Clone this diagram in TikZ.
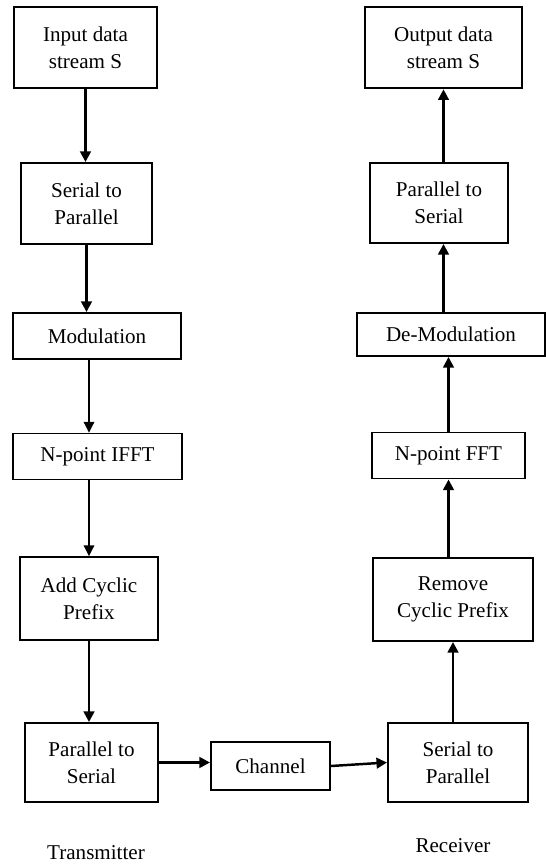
\documentclass[tikz,border=0pt]{standalone}
\usepackage{fontspec}
\setmainfont{Liberation Serif}
\usetikzlibrary{arrows.meta}

\begin{document}
\begin{tikzpicture}[x=0.02cm, y=-0.02cm,
	every node/.style={font=\fontsize{12}{15.4}\selectfont, align=center, inner sep=0pt},
	blk/.style={draw, line width=1.1pt, minimum width=#1},
	tall/.style={minimum height=81*0.02cm},
	flat/.style={minimum height=46*0.02cm},
	flow/.style={-{Triangle[length=6pt, width=6pt]}, line width=1.4pt},
	thinflow/.style={-{Triangle[length=6pt, width=6pt]}, line width=0.6pt}]
	\useasboundingbox (0,0) rectangle (546,864);
	% transmitter
	\node [blk=143*0.02cm, tall, line width=1.5pt] (tin) at (85.5,47.5) {Input data\\stream S};
	\node [blk=131*0.02cm, tall] (tsp) at (86.5,203.5) {Serial to\\Parallel};
	\node [blk=168*0.02cm, flat] (tmod) at (97,336) {Modulation};
	\node [blk=169*0.02cm, flat] (tifft) at (97.5,456.5) {N-point IFFT};
	\node [blk=138*0.02cm, minimum height=83*0.02cm] (tcp) at (89,598.5) {Add Cyclic\\Prefix};
	\node [blk=133*0.02cm, minimum height=79*0.02cm] (tps) at (91.5,762.5) {Parallel to\\Serial};
	% channel
	\node [blk=119*0.02cm, minimum height=48*0.02cm] (chan) at (270.5,766) {Channel};
	% receiver
	\node [blk=140*0.02cm, minimum height=79*0.02cm] (rsp) at (458,762.5) {Serial to\\Parallel};
	\node [blk=160*0.02cm, minimum height=83*0.02cm] (rcp) at (453,599.5) {Remove\\Cyclic Prefix};
	\node [blk=153*0.02cm, flat] (rfft) at (448.5,455.5) {N-point FFT};
	\node [blk=188*0.02cm, minimum height=43*0.02cm] (rdem) at (451,334.5) {De-Modulation};
	\node [blk=138*0.02cm, minimum height=80*0.02cm] (rps) at (439,203) {Parallel to\\Serial};
	\node [blk=157*0.02cm, tall, line width=1.5pt] (rout) at (443.5,47.5) {Output data\\stream S};
	\node (txlbl) at (96,853) {Transmitter};
	\node (rxlbl) at (453,846) {Receiver};

	\draw [flow] (tin.south) -- (tin.south |- tsp.north);
	\draw [flow] (tsp.south) -- (tsp.south |- tmod.north);
	\draw [thinflow] (tmod.south -| tcp) -- (tifft.north -| tcp);
	\draw [thinflow] (tifft.south -| tcp) -- (tcp.north);
	\draw [flow] (tcp.south) -- (tcp.south |- tps.north);
	\draw [flow] (tps.east) -- (tps.east -| chan.west);
	\draw [flow] (chan.east) -- (rsp.west);
	\draw [flow] (rsp.north -| rcp) -- (rcp.south);
	\draw [flow] (rcp.north -| rfft) -- (rfft.south);
	\draw [flow] (rfft.north) -- (rfft.north |- rdem.south);
	\draw [flow] (rdem.north -| rout) -- (rps.south -| rout);
	\draw [flow] (rps.north -| rout) -- (rout.south);
\end{tikzpicture}
\end{document}
